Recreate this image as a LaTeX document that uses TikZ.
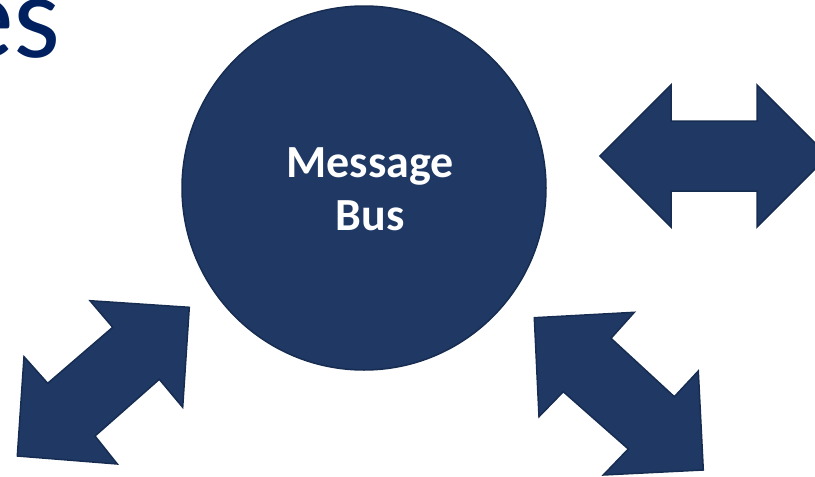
\documentclass[tikz,border=0pt]{standalone}
\usepackage{fontspec}
\setmainfont{Carlito}
\definecolor{navy}{HTML}{1F3864}
\definecolor{navyline}{HTML}{172C51}
\definecolor{titleblue}{HTML}{002060}
\tikzset{
  shapefill/.style={fill=navy, draw=navyline, line width=1.5pt, line join=miter},
  bustext/.style={text=white, font=\bfseries\fontsize{46}{53}\selectfont, inner sep=0pt, anchor=base},
}
\begin{document}
\begin{tikzpicture}[x=1pt,y=-1pt]
\useasboundingbox (0,0) rectangle (815,477);
% title fragment
\node[anchor=base east, inner sep=0pt, text=titleblue, font=\fontsize{120}{120}\selectfont] (title) at (61,57) {es};
% message bus circle
\node[circle, shapefill, minimum size=364pt, inner sep=0pt] (bus) at (364,188) {};
\node[bustext] (msg) at (370,177) {Message};
\node[bustext] (busw) at (370,230) {Bus};
% right double arrow
\draw[shapefill] (600,156) -- (671,85) -- (671,121) -- (757,121) -- (757,85) -- (828,156)
  -- (757,227) -- (757,191) -- (671,191) -- (671,227) -- cycle;
% bottom-left double arrow
\draw[shapefill] (189.3,307.3) -- (90,300.7) -- (112.7,327.3) -- (47.7,383.3) -- (24,356.7)
  -- (17.3,456) -- (117.3,464) -- (95,436) -- (159.3,379.3) -- (182.7,407.3) -- cycle;
% bottom-right double arrow
\draw[shapefill] (534.3,317.7) -- (634.3,312.3) -- (611,338.3) -- (674.3,396.7) -- (698.3,371)
  -- (703.3,470) -- (603.3,475) -- (628.3,449) -- (563.3,391.7) -- (539,416.7) -- cycle;
\end{tikzpicture}
\end{document}
